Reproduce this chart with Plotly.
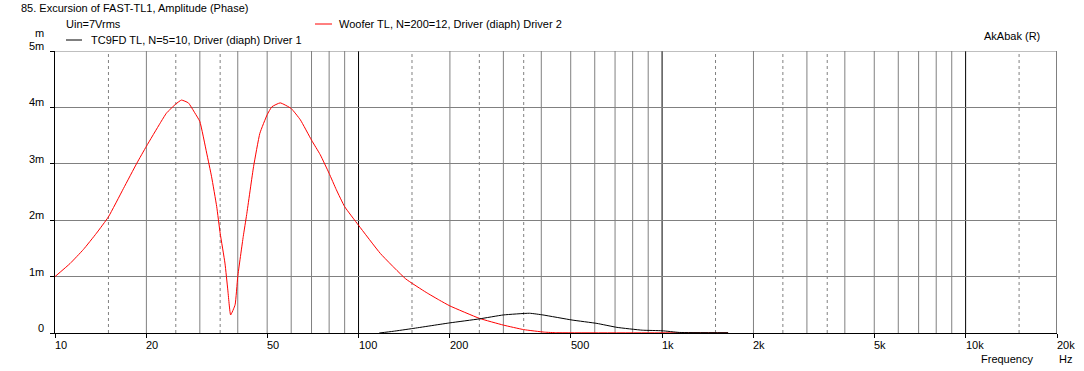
import math
import plotly.graph_objects as go

# ---- data ----
woofer_freq = [10, 11.2, 12.4, 13.7, 15, 16.8, 18.6, 20, 22.2, 23.3, 25, 26.1, 27.5, 28.9,
               30, 31.6, 32.8, 34.1, 35, 36.3, 37.1, 37.9, 39.2, 40, 41.7, 42.8, 45.1, 47.3,
               50, 51.8, 55.2, 60, 64.3, 70, 74.8, 80, 84.5, 90, 100, 118, 143, 167, 185,
               200, 250, 300, 350, 410, 450, 1000, 1650]
woofer_mm = [1.0, 1.23, 1.48, 1.77, 2.06, 2.56, 3.01, 3.31, 3.72, 3.90, 4.06, 4.13, 4.08, 3.90,
             3.75, 3.19, 2.77, 2.24, 1.77, 1.24, 0.76, 0.32, 0.50, 1.0, 1.71, 2.10, 2.95, 3.54,
             3.87, 4.01, 4.08, 3.98, 3.78, 3.42, 3.16, 2.83, 2.54, 2.24, 1.91, 1.41, 0.96, 0.72, 0.58,
             0.48, 0.26, 0.14, 0.06, 0.015, 0.005, 0.003, 0.002]

tc_freq = [117, 130, 151, 200, 250, 300, 366, 405, 505, 610, 710, 860, 1000, 1140, 1650]
tc_mm = [0.0, 0.03, 0.08, 0.18, 0.25, 0.32, 0.35, 0.32, 0.23, 0.17, 0.10, 0.05, 0.04, 0.01, 0.005]

x_tick_vals = [10, 20, 50, 100, 200, 500, 1000, 2000, 5000, 10000, 20000]
x_tick_text = ["10", "20", "50", "100", "200", "500", "1k", "2k", "5k", "10k", "20k"]
y_tick_vals = [0, 1, 2, 3, 4, 5]
y_tick_text = ["0", "1m", "2m", "3m", "4m", "5m"]

decades = [100, 1000, 10000, 20000]
solid_mult = [2, 3, 4, 5, 6, 7, 8, 9]
dashed_mult = [1.5, 2.5, 3.5]
decade_starts = [10, 100, 1000, 10000]

title = "85. Excursion of FAST-TL1, Amplitude (Phase)"
sub = "Uin=7Vrms"
name1 = "TC9FD TL, N=5=10, Driver (diaph) Driver 1"
name2 = "Woofer TL, N=200=12, Driver (diaph) Driver 2"

# ---- layout geometry ----
W, H = 1084, 371
L, R, T, B = 55, 1057, 51, 333
FONT = "Liberation Sans"
GRAY = "#808080"


def pxx(x):
    return (x - L) / (R - L)


def pxy(y):
    return (B - y) / (B - T)


fig = go.Figure()
fig.add_trace(go.Scatter(x=woofer_freq, y=woofer_mm, mode="lines", name=name2,
                         line=dict(color="#ff0000", width=1, shape="spline", smoothing=0.4)))
fig.add_trace(go.Scatter(x=tc_freq, y=tc_mm, mode="lines", name=name1,
                         line=dict(color="#000000", width=1, shape="spline", smoothing=0.4)))

shapes = []
xmax = 20000
for d in decade_starts:
    for m in solid_mult:
        f = d * m
        if f < xmax:
            shapes.append(dict(type="line", xref="x", yref="paper", x0=f, x1=f,
                               y0=0, y1=1, line=dict(color=GRAY, width=1), layer="below"))
    for m in dashed_mult:
        f = d * m
        if f < xmax:
            shapes.append(dict(type="line", xref="x", yref="paper", x0=f, x1=f,
                               y0=0, y1=1, line=dict(color=GRAY, width=1, dash="3px,3px"), layer="below"))
for f in decades:
    shapes.append(dict(type="line", xref="x", yref="paper", x0=f, x1=f,
                       y0=0, y1=1, line=dict(color="#000000", width=1), layer="below"))
shapes.append(dict(type="line", xref="paper", yref="y", x0=0, x1=1, y0=5, y1=5,
                   line=dict(color=GRAY, width=1), layer="below"))
# legend samples
shapes.append(dict(type="line", xref="paper", yref="paper", x0=pxx(66), x1=pxx(82),
                   y0=pxy(40), y1=pxy(40), line=dict(color="#000000", width=1)))
shapes.append(dict(type="line", xref="paper", yref="paper", x0=pxx(315), x1=pxx(332),
                   y0=pxy(24), y1=pxy(24), line=dict(color="#ff0000", width=1)))

ann = []


def text(s, x, y, anchor="left"):
    ann.append(dict(text=s, x=pxx(x), y=pxy(y), xref="paper", yref="paper", showarrow=False,
                    xanchor=anchor, yanchor="middle", font=dict(family=FONT, size=11, color="#000")))


text(title, 19, 8)
text(sub, 64, 24)
text(name1, 89, 40)
text(name2, 337, 24)
text("AkAbak (R)", 982, 36)
text("m", 46, 33, "right")
text("Frequency", 979, 359)
text("Hz", 1057, 359)
for v, t in zip(x_tick_vals, x_tick_text):
    xp = L + (math.log10(v) - 1) / (math.log10(xmax) - 1) * (R - L)
    text(t, xp - 2, 345)
for v, t in zip(y_tick_vals, y_tick_text):
    yp = B - v / 5 * (B - T)
    text(t, 46, yp - 5, "right")

fig.update_layout(
    width=W, height=H,
    margin=dict(l=L, r=W - R, t=T, b=H - B, pad=0),
    paper_bgcolor="white", plot_bgcolor="white",
    showlegend=False,
    shapes=shapes, annotations=ann,
    font=dict(family=FONT, size=11, color="#000"),
    xaxis=dict(type="log", range=[1, math.log10(xmax)], showgrid=False, zeroline=False,
               showline=True, linecolor="#000", linewidth=1,
               tickvals=x_tick_vals, ticktext=[""] * len(x_tick_vals), showticklabels=False,
               ticks="outside", ticklen=4, tickcolor="#000", tickwidth=1),
    yaxis=dict(range=[0, 5], showgrid=True, gridcolor=GRAY, gridwidth=1, zeroline=False,
               showline=True, linecolor="#000", linewidth=1,
               tickvals=y_tick_vals, showticklabels=False,
               ticks="outside", ticklen=4, tickcolor="#000", tickwidth=1),
)

fig.write_html("out.html", config={"displayModeBar": False},
               post_script="document.body.style.margin='0px';")
